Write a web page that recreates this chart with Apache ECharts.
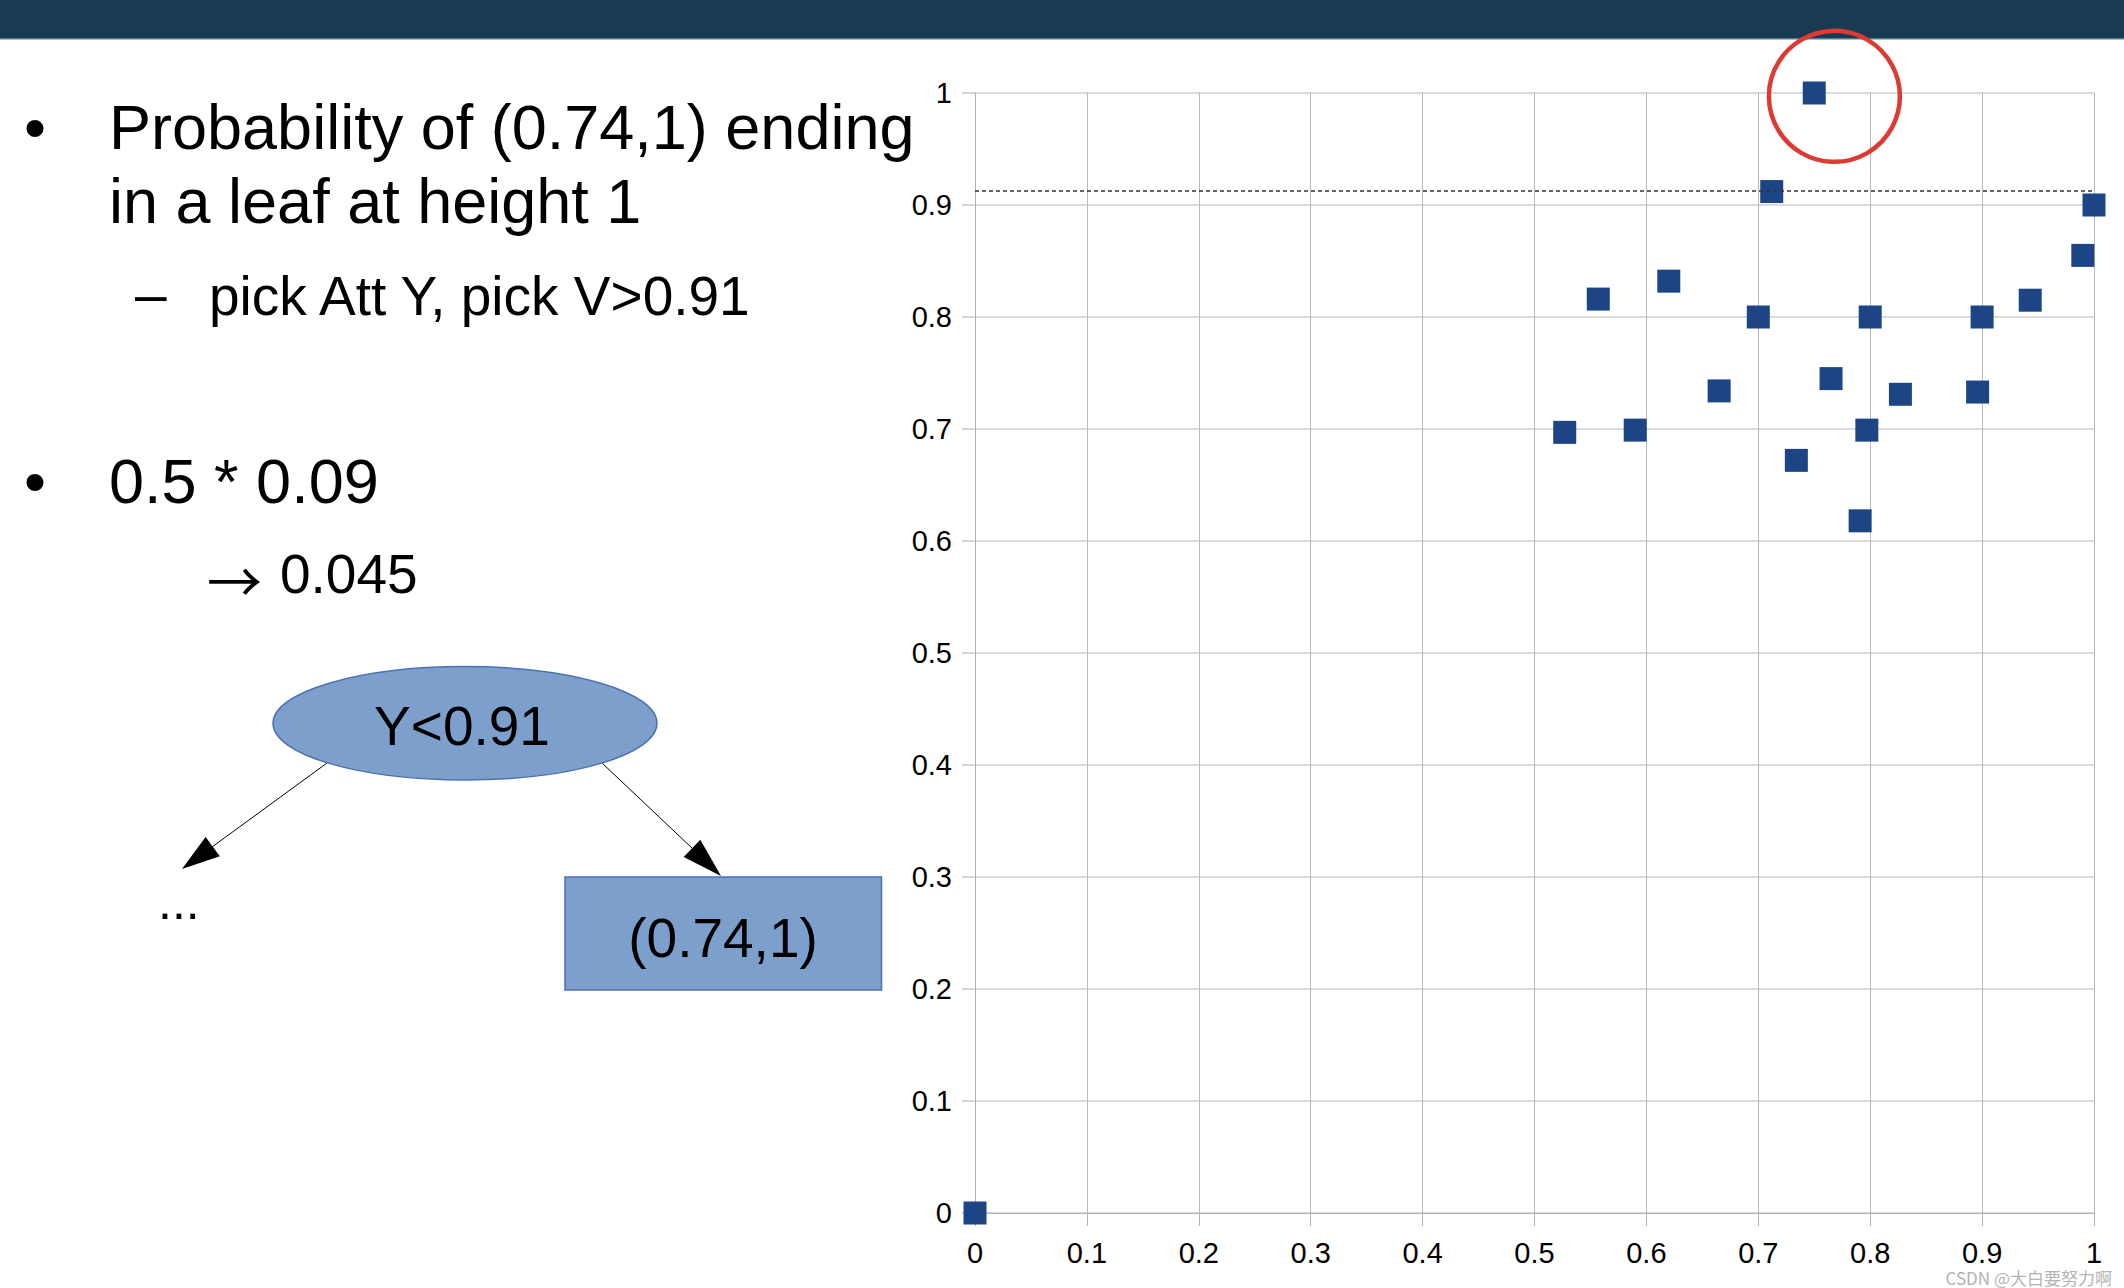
<!DOCTYPE html>
<html>
<head>
<meta charset="utf-8">
<script src="https://cdn.jsdelivr.net/npm/echarts@6/dist/echarts.min.js"></script>
<style>
html,body{margin:0;padding:0;background:#fff;}
#chart{width:2124px;height:1288px;}
</style>
</head>
<body>
<div id="chart"></div>
<script>
// ---- data ----
const pointsX = [0, 0.527, 0.557, 0.590, 0.620, 0.665, 0.700, 0.712, 0.734, 0.750, 0.765, 0.791, 0.797, 0.800, 0.827, 0.896, 0.900, 0.943, 0.990, 1.000];
const pointsY = [0, 0.697, 0.816, 0.699, 0.832, 0.734, 0.800, 0.912, 0.672, 1.000, 0.745, 0.618, 0.699, 0.800, 0.731, 0.733, 0.800, 0.815, 0.855, 0.900];
const splitValue = 0.913;           // dotted threshold line
const highlightX = [0.768];         // red ring centre
const highlightY = [0.997];
const xTicks = [0, 0.1, 0.2, 0.3, 0.4, 0.5, 0.6, 0.7, 0.8, 0.9, 1];
const yTicks = [0, 0.1, 0.2, 0.3, 0.4, 0.5, 0.6, 0.7, 0.8, 0.9, 1];

const bulletLines = ['Probability of (0.74,1) ending', 'in a leaf at height 1'];
const subLine = 'pick Att Y, pick V>0.91';
const calcLine = '0.5 * 0.09';
const resultArrow = '\u2192';
const resultLine = '0.045';
const nodeLabel = 'Y<0.91';
const leafLabel = '(0.74,1)';
const ellipsisLabel = '...';
const watermark = 'CSDN @大白要努力啊';

const FONT = '"Liberation Sans", Arial, sans-serif';
const CJK = '"Noto Sans CJK SC", sans-serif';
const chart = echarts.init(document.getElementById('chart'), null, {renderer: 'svg'});

function txt(text, x, baseline, size, align, color, family) {
  return {
    type: 'text', x: x, y: baseline - 0.3465 * size, silent: true,
    style: {text: text, fontFamily: family || FONT, fontSize: size, fill: color || '#000',
            align: align || 'left', verticalAlign: 'middle'}
  };
}

const graphics = [
  {type: 'rect', shape: {x: 0, y: 0, width: 2124, height: 39}, style: {fill: '#193a53'}, silent: true},
  {type: 'rect', shape: {x: 0, y: 38, width: 2124, height: 1.5}, style: {fill: '#5d7689'}, silent: true},
  txt('\u2022', 24, 148.4, 63),
  txt(bulletLines[0], 109, 148.4, 63),
  txt(bulletLines[1], 109, 222.6, 63),
  {type: 'text', x: 135, y: 294, silent: true,
   style: {text: '\u2013', fontFamily: FONT, fontSize: 57, fill: '#000', align: 'left', verticalAlign: 'middle'}},
  txt(subLine, 209, 315, 55),
  txt('\u2022', 24, 503, 63),
  txt(calcLine, 109, 503, 63),
  {type: 'text', x: 207, y: 578, silent: true,
   style: {text: resultArrow, fontFamily: CJK, fontSize: 55, fill: '#000', align: 'left', verticalAlign: 'middle'}},
  txt(resultLine, 280, 593, 55),
  // tree diagram
  {type: 'line', shape: {x1: 327, y1: 763, x2: 212, y2: 847}, style: {stroke: '#000', lineWidth: 1}, silent: true},
  {type: 'polygon', shape: {points: [[182, 869], [205.6, 836.9], [219.8, 856.3]]}, style: {fill: '#000'}, silent: true},
  {type: 'line', shape: {x1: 602, y1: 763, x2: 693, y2: 849}, style: {stroke: '#000', lineWidth: 1}, silent: true},
  {type: 'polygon', shape: {points: [[721, 876], [683.7, 857.1], [700.3, 839.7]]}, style: {fill: '#000'}, silent: true},
  {type: 'ellipse', shape: {cx: 465, cy: 723.3, rx: 192, ry: 56.7}, style: {fill: '#7c9fcb', stroke: '#4d72b0', lineWidth: 1.5}, silent: true},
  txt(nodeLabel, 462, 745, 55, 'center'),
  {type: 'rect', shape: {x: 565, y: 877, width: 316.5, height: 113}, style: {fill: '#7c9fcb', stroke: '#4d72b0', lineWidth: 1.5}, silent: true},
  txt(leafLabel, 723, 956.7, 55, 'center'),
  txt(ellipsisLabel, 158, 919, 50),
  {type: 'text', x: 2112, y: 1277, silent: true,
   style: {text: watermark, fontFamily: CJK, fontSize: 17, fill: '#b4b4b4',
           align: 'right', verticalAlign: 'middle'}}
];

const fmt = v => String(Math.round(v * 10) / 10);

const option = {
  animation: false,
  backgroundColor: '#fff',
  grid: {left: 975, top: 93, width: 1119, height: 1120, containLabel: false},
  xAxis: {
    type: 'value', min: xTicks[0], max: xTicks[xTicks.length - 1], interval: 0.1,
    axisLine: {show: true, lineStyle: {color: '#b3b3b3', width: 1}},
    axisTick: {show: true, inside: false, length: 13, lineStyle: {color: '#b3b3b3', width: 1}},
    axisLabel: {show: true, margin: 25, fontFamily: FONT, fontSize: 29, color: '#000', formatter: fmt},
    splitLine: {show: true, lineStyle: {color: '#b8b8b8', width: 1}}
  },
  yAxis: {
    type: 'value', min: yTicks[0], max: yTicks[yTicks.length - 1], interval: 0.1,
    axisLine: {show: true, lineStyle: {color: '#b3b3b3', width: 1}},
    axisTick: {show: true, inside: false, length: 13, lineStyle: {color: '#c8c8c8', width: 1.5}},
    axisLabel: {show: true, margin: 23, fontFamily: FONT, fontSize: 29, color: '#000', formatter: fmt},
    splitLine: {show: true, lineStyle: {color: '#cfcfcf', width: 1.6}}
  },
  series: [
    {
      type: 'scatter', symbol: 'rect', symbolSize: 23, silent: true,
      itemStyle: {color: '#1d4586', opacity: 1},
      data: pointsX.map((x, i) => [x, pointsY[i]]),
      markLine: {
        silent: true, symbol: 'none', label: {show: false}, precision: 4,
        lineStyle: {color: '#333', width: 1.5, type: [4, 3]},
        data: [{yAxis: splitValue}]
      },
      z: 3
    },
    {
      type: 'scatter', symbol: 'circle', symbolSize: 131, silent: true,
      itemStyle: {color: 'rgba(0,0,0,0)', borderColor: '#dc3a33', borderWidth: 4.5, opacity: 1},
      data: highlightX.map((x, i) => [x, highlightY[i]]),
      z: 4
    }
  ],
  graphic: graphics
};
chart.setOption(option);
</script>
</body>
</html>
